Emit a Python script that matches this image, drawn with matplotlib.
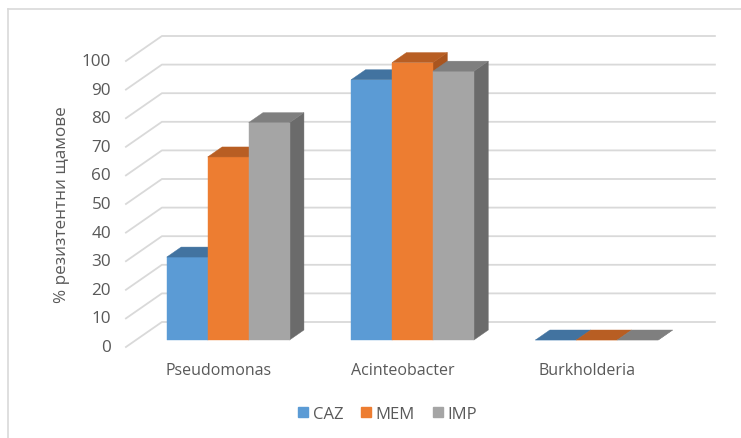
import matplotlib
matplotlib.use("Agg")
import matplotlib.pyplot as plt
from matplotlib.patches import Polygon
from matplotlib.lines import Line2D
from matplotlib.transforms import IdentityTransform

# ---- data -------------------------------------------------------------
categories = ["Pseudomonas", "Acinteobacter", "Burkholderia"]
series = ["CAZ", "MEM", "IMP"]
caz = [29, 91, 0]
mem = [64, 97, 0]
imp = [76, 94, 0]
yticks = [0, 10, 20, 30, 40, 50, 60, 70, 80, 90, 100]
y_label = "% резизтентни щамове"

# ---- style ------------------------------------------------------------
front_colors = ["#5B9BD5", "#ED7D31", "#A5A5A5"]
top_colors = ["#4273A0", "#B85E23", "#7F7F7F"]
side_colors = ["#3E6C96", "#A9551F", "#6B6B6B"]
grid_color = "#D9D9D9"
text_color = "#595959"
font = ["Open Sans", "DejaVu Sans"]
plt.rcParams["font.family"] = font

W, H = 741, 439
fig = plt.figure(figsize=(W / 100, H / 100), dpi=100)
ax = fig.add_axes([136 / W, 98 / H, 553 / W, 286 / H])
ax.set_xlim(-0.5, 2.5)
ax.set_ylim(0, 100)
ax.axis("off")

# pseudo-3D depth: 0 = front edge of the floor, 1 = back wall
DEPTH_DX, DEPTH_DY = 36.0, 25.0
BAR_FRONT, BAR_BACK = 0.28, 0.68
BAR_W = 0.222
IDT = IdentityTransform()


def to_disp(x, y, d):
    px, py = ax.transData.transform((x, y))
    s = d - BAR_FRONT
    return (px + s * DEPTH_DX, py + s * DEPTH_DY)


# side wall + back wall gridlines
for v in yticks:
    pts = [to_disp(-0.5, v, 0), to_disp(-0.5, v, 1), to_disp(2.5, v, 1)]
    xs, ys = zip(*pts)
    ax.add_line(Line2D(xs, ys, transform=IDT, color=grid_color, lw=1.3,
                       clip_on=False, zorder=1))
    lx, ly = to_disp(-0.5, v, 0)
    ax.text(lx - 15, ly, str(v), transform=IDT, ha="right", va="center",
            fontsize=12.3, color=text_color, clip_on=False)

# bars (left to right so right-hand boxes overlap the ones beside them)
values = [caz, mem, imp]
for i, cat in enumerate(categories):
    for j in range(len(series)):
        v = values[j][i]
        x0 = i - 1.5 * BAR_W + j * BAR_W
        x1 = x0 + BAR_W
        side = [to_disp(x1, 0, BAR_FRONT), to_disp(x1, 0, BAR_BACK),
                to_disp(x1, v, BAR_BACK), to_disp(x1, v, BAR_FRONT)]
        front = [to_disp(x0, 0, BAR_FRONT), to_disp(x1, 0, BAR_FRONT),
                 to_disp(x1, v, BAR_FRONT), to_disp(x0, v, BAR_FRONT)]
        top = [to_disp(x0, v, BAR_FRONT), to_disp(x1, v, BAR_FRONT),
               to_disp(x1, v, BAR_BACK), to_disp(x0, v, BAR_BACK)]
        for poly, col in ((side, side_colors[j]), (front, front_colors[j]),
                          (top, top_colors[j])):
            ax.add_patch(Polygon(poly, closed=True, transform=IDT,
                                 facecolor=col, edgecolor=col, lw=0.3,
                                 clip_on=False, zorder=3))
    cx, cy = to_disp(i, 0, 0)
    ax.text(cx, cy - 23, cat, transform=IDT, ha="center", va="center",
            fontsize=11.5, color=text_color, clip_on=False)

# axis title
fig.text(62 / W, 1 - 205 / H, y_label, rotation=90, ha="center",
         va="center", fontsize=12.3, color=text_color)

# legend
handles = [Line2D([], [], marker="s", linestyle="none", markersize=7,
                  markerfacecolor=c, markeredgecolor=c) for c in front_colors]
leg = fig.legend(handles, series, loc="center", ncol=3, frameon=False,
                 bbox_to_anchor=(386 / W, 1 - 415 / H), fontsize=12,
                 handletextpad=0.05, columnspacing=0.9, handlelength=1.0)
for t in leg.get_texts():
    t.set_color(text_color)

# chart border
fig.add_artist(Line2D([8 / W, 8 / W], [0, 1 - 10 / H], color=grid_color,
                      lw=1.2, transform=fig.transFigure))
fig.add_artist(Line2D([8 / W, 1], [1 - 10 / H, 1 - 10 / H], color=grid_color,
                      lw=1.2, transform=fig.transFigure))

fig.savefig("out.png", dpi=100)
